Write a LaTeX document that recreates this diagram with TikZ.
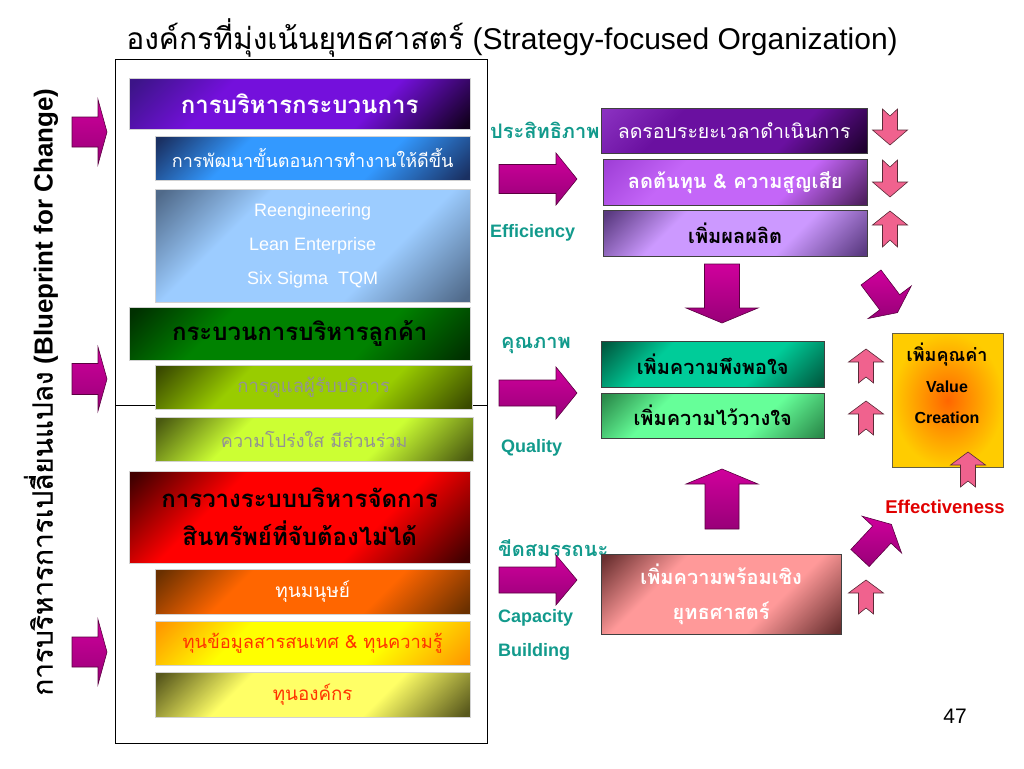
\documentclass[tikz,border=0pt]{standalone}
\usepackage{fontspec}
\setmainfont{Liberation Sans}
\newfontfamily\thai[Script=Thai]{Loma}
\newfontfamily\thaithick[Script=Thai, FakeBold=0.6]{Loma}

% colours
\definecolor{mag}{HTML}{C0008F}
\definecolor{magtop}{HTML}{D0009C}
\definecolor{magbot}{HTML}{980078}
\definecolor{magdark}{HTML}{5A0040}
\definecolor{pinkarr}{HTML}{F0628E}
\definecolor{pinkdark}{HTML}{5A2A38}
\definecolor{labelteal}{HTML}{129A8C}
\definecolor{effred}{HTML}{E00000}
\definecolor{thaired}{HTML}{FF3300}
\definecolor{dimtext}{HTML}{939393}
\definecolor{procA}{HTML}{3C1488}\definecolor{procM}{HTML}{7410DC}\definecolor{procB}{HTML}{12001E}
\definecolor{devA}{HTML}{1A3062}\definecolor{devM}{HTML}{3399FF}
\definecolor{methA}{HTML}{506A8A}\definecolor{methM}{HTML}{9CCCFF}
\definecolor{custA}{HTML}{003000}\definecolor{custM}{HTML}{008200}
\definecolor{careA}{HTML}{3A4A00}\definecolor{careM}{HTML}{99CC00}
\definecolor{openA}{HTML}{4A5A10}\definecolor{openM}{HTML}{CCFF33}
\definecolor{intA}{HTML}{420000}\definecolor{intM}{HTML}{FF0000}
\definecolor{humA}{HTML}{6A3000}\definecolor{humM}{HTML}{FF6600}
\definecolor{infoA}{HTML}{FF9900}\definecolor{infoM}{HTML}{FFFF00}
\definecolor{orgA}{HTML}{58581C}\definecolor{orgM}{HTML}{FFFF66}
\definecolor{cycA}{HTML}{8A30C0}\definecolor{cycM}{HTML}{6A10A0}\definecolor{cycB}{HTML}{1E002E}
\definecolor{costA}{HTML}{A040D8}\definecolor{costM}{HTML}{C466F8}\definecolor{costB}{HTML}{502060}
\definecolor{outA}{HTML}{5A3A80}\definecolor{outM}{HTML}{CC99FF}
\definecolor{satA}{HTML}{005A40}\definecolor{satM}{HTML}{00CC99}
\definecolor{trA}{HTML}{2A8A4A}\definecolor{trM}{HTML}{66FF99}
\definecolor{rdyA}{HTML}{6A3030}\definecolor{rdyM}{HTML}{FF9999}
\definecolor{valIn}{HTML}{FF6600}\definecolor{valOut}{HTML}{FFCC00}

% corner-to-corner fill: dark corner, flat middle, dark corner
\colorlet{fadeA}{black}\colorlet{fadeM}{white}\colorlet{fadeB}{black}
\pgfdeclarehorizontalshading[fadeA,fadeM,fadeB]{fadeshade}{100bp}{color(0bp)=(fadeA); color(16bp)=(fadeA); color(34bp)=(fadeM); color(64bp)=(fadeM); color(84bp)=(fadeB); color(100bp)=(fadeB)}

\begin{document}
\begin{tikzpicture}[x=1pt, y=-1pt,
  box/.style={draw=gray!35, anchor=north west, inner sep=2pt, align=center},
  rbox/.style={draw=black!75, anchor=north west, inner sep=2pt, align=center},
  fade/.style n args={3}{/utils/exec={\colorlet{fadeA}{#1}\colorlet{fadeM}{#2}\colorlet{fadeB}{#3}}, shade, shading=fadeshade, shading angle=-45},
  bigarrow/.style={top color=magtop, bottom color=magbot, draw=magdark, line width=0.6pt},
  pinkarrow/.style={fill=pinkarr, draw=pinkdark, line width=0.6pt},
  tealtext/.style={anchor=west, text=labelteal, inner sep=0pt},
  pics/barrow/.style n args={4}{code={
    \path[pic actions] (0,-#2) -- (#1-#4,-#2) -- (#1-#4,-#3) -- (#1,0) -- (#1-#4,#3) -- (#1-#4,#2) -- (0,#2) -- cycle;}},
  pics/narrow/.style n args={5}{code={
    \path[pic actions] (0,-#2) -- (#1-#4,-#2) -- (#1-#4,-#3) -- (#1,0) -- (#1-#4,#3) -- (#1-#4,#2) -- (0,#2) -- (#5,0) -- cycle;}},
]
\useasboundingbox (0,0) rectangle (1024,768);

% Title and side text
\node (title) [font=\fontsize{30}{34}\selectfont] at (512,38) {{\thai องค์กรที่มุ่งเน้นยุทธศาสตร์} (Strategy-focused Organization)};
\node (side) [rotate=90, font=\fontsize{26}{30}\selectfont] at (41,392) {{\thaithick\fontsize{28}{30}\selectfont การบริหารการเปลี่ยนแปลง} \textbf{(Blueprint for Change)}};

% Left arrows
\pic[bigarrow] at (72,132) {barrow={35}{15}{32.5}{9}};
\pic[bigarrow] at (72,379) {barrow={35}{15.5}{32}{9}};
\pic[bigarrow] at (72,652) {barrow={35}{15}{32.5}{9}};

% Frame
\node (frame) [draw, line width=1pt, anchor=north west, minimum width=372pt, minimum height=684pt, inner sep=0pt] at (115,59) {};
\coordinate (divy) at (0,405);
\draw[line width=1pt] (frame.west |- divy) -- (frame.east |- divy);

% Left boxes
\node (procmgmt) [box, fade={procA}{procM}{procB}, minimum width=341pt, minimum height=51pt, text=white, font=\thai\bfseries\fontsize{24}{28}\selectfont] at (129,78) {การบริหารกระบวนการ};
\node (procdev) [box, fade={devA}{devM}{devA}, minimum width=315pt, minimum height=44pt, text=white, font=\thai\fontsize{18}{22}\selectfont] at (155,136) {การพัฒนาขั้นตอนการทำงานให้ดีขึ้น};
\node (methods) [box, fade={methA}{methM}{methA}, minimum width=315pt, minimum height=113pt, text=white, font=\fontsize{18}{34}\selectfont] at (155,189) {Reengineering\\Lean Enterprise\\Six Sigma\ \ TQM};
\node (custmgmt) [box, fade={custA}{custM}{custA}, minimum width=341pt, minimum height=53pt, font=\thai\bfseries\fontsize{24}{28}\selectfont] at (129,307) {กระบวนการบริหารลูกค้า};
\node (custcare) [box, fade={careA}{careM}{careA}, minimum width=317pt, minimum height=44pt, text=dimtext, font=\thai\fontsize{18.5}{22}\selectfont] at (155,365) {การดูแลผู้รับบริการ};
\node (openness) [box, fade={openA}{openM}{openA}, minimum width=318pt, minimum height=44pt, text=dimtext, font=\thai\fontsize{18}{22}\selectfont] at (155,417) {ความโปร่งใส มีส่วนร่วม};
\node (intangible) [box, fade={intA}{intM}{intA}, minimum width=341pt, minimum height=92pt, font=\thai\bfseries\fontsize{24}{38}\selectfont] at (129,471) {การวางระบบบริหารจัดการ\\สินทรัพย์ที่จับต้องไม่ได้};
\node (humancap) [box, fade={humA}{humM}{humA}, minimum width=315pt, minimum height=45pt, text=white, font=\thai\fontsize{19}{22}\selectfont] at (155,569) {ทุนมนุษย์};
\node (infocap) [box, fade={infoA}{infoM}{infoA}, minimum width=315pt, minimum height=44pt, text=thaired, font=\thai\fontsize{18.3}{22}\selectfont] at (155,621) {ทุนข้อมูลสารสนเทศ \& ทุนความรู้};
\node (orgcap) [box, fade={orgA}{orgM}{orgA}, minimum width=315pt, minimum height=45pt, text=thaired, font=\thai\fontsize{18.8}{22}\selectfont] at (155,672) {ทุนองค์กร};

% Labels on the right of the frame
\node (effth) [tealtext, font=\thai\bfseries\fontsize{20}{24}\selectfont] at (490,130) {ประสิทธิภาพ};
\node (effen) [tealtext, font=\bfseries\fontsize{18}{20}\selectfont] at (490,233) {Efficiency};
\node (qualth) [tealtext, font=\thai\bfseries\fontsize{20}{24}\selectfont] at (501,345) {คุณภาพ};
\node (qualen) [tealtext, font=\bfseries\fontsize{18}{20}\selectfont] at (501,448) {Quality};
\node (capth) [tealtext, font=\thai\bfseries\fontsize{20}{24}\selectfont] at (498,548) {ขีดสมรรถนะ};
\node (capen) [tealtext, font=\bfseries\fontsize{18}{20}\selectfont] at (498,618) {Capacity};
\node (builden) [tealtext, font=\bfseries\fontsize{18}{20}\selectfont] at (498,652) {Building};

% Right arrows
\pic[bigarrow] at (499,179) {barrow={78}{14.5}{26}{21}};
\pic[bigarrow] at (499,393) {barrow={78}{13}{26}{21}};
\pic[bigarrow] at (499,580) {barrow={78}{13}{25}{21}};

% Right boxes
\node (cycle) [rbox, fade={cycA}{cycM}{cycB}, minimum width=266pt, minimum height=45pt, text=white, font=\thai\fontsize{19.5}{24}\selectfont] at (601,108) {ลดรอบระยะเวลาดำเนินการ};
\node (cost) [rbox, fade={costA}{costM}{costB}, minimum width=264pt, minimum height=46pt, text=white, font=\thai\bfseries\fontsize{20}{24}\selectfont] at (603,159) {ลดต้นทุน \& ความสูญเสีย};
\node (output) [rbox, fade={outA}{outM}{outA}, minimum width=264pt, minimum height=46pt, font=\thai\bfseries\fontsize{20}{24}\selectfont] at (603,210) {เพิ่มผลผลิต};
\node (satisf) [rbox, fade={satA}{satM}{satA}, minimum width=223pt, minimum height=46pt, font=\thai\bfseries\fontsize{20}{24}\selectfont] at (601,341) {เพิ่มความพึงพอใจ};
\node (trust) [rbox, fade={trA}{trM}{trA}, minimum width=223pt, minimum height=45pt, font=\thai\bfseries\fontsize{20}{24}\selectfont] at (601,393) {เพิ่มความไว้วางใจ};
\node (ready) [rbox, fade={rdyA}{rdyM}{rdyA}, minimum width=240pt, minimum height=80pt, text=white, font=\thai\bfseries\fontsize{20}{35}\selectfont] at (601,554) {เพิ่มความพร้อมเชิง\\ยุทธศาสตร์};
\node (value) [rbox, draw=black!70!yellow, inner color=valIn, outer color=valOut, minimum width=111pt, minimum height=134pt] at (892,333) {};
\node (valtext) [align=center, font=\bfseries\fontsize{16}{31}\selectfont] at (947,383) {{\thai\fontsize{18}{31}\selectfont เพิ่มคุณค่า}\\Value\\Creation};

% Big arrows between the groups
\pic[bigarrow, rotate=-90] at (722,264) {barrow={59}{17.5}{36}{15}};
\pic[bigarrow, rotate=90] at (722,529) {barrow={60}{17}{36}{15}};
\pic[bigarrow, rotate=-53] at (871,277.5) {barrow={44}{12.5}{27}{13}};
\pic[bigarrow, rotate=47] at (860,558) {barrow={46}{12.5}{27}{14}};

% Small arrows
\pic[pinkarrow, rotate=-90] at (890,109) {narrow={36}{7.5}{17.5}{15}{7}};
\pic[pinkarrow, rotate=-90] at (890,160) {narrow={37}{7.5}{17.5}{15}{7}};
\pic[pinkarrow, rotate=90] at (890,247) {narrow={36}{7.5}{17.5}{14}{7}};
\pic[pinkarrow, rotate=90] at (866,383) {narrow={34}{7.5}{17.5}{13}{6}};
\pic[pinkarrow, rotate=90] at (866,435) {narrow={34}{7.5}{17.5}{13}{6}};
\pic[pinkarrow, rotate=90] at (866,614) {narrow={34}{7.5}{17.5}{13}{6}};
\pic[pinkarrow, rotate=90] at (968,487) {narrow={35}{7.5}{17.5}{13}{6}};

\node (effect) [text=effred, font=\bfseries\fontsize{18.5}{22}\selectfont] at (945,507) {Effectiveness};
\node (pagenum) [font=\fontsize{21}{24}\selectfont] at (955,716) {47};

\end{tikzpicture}
\end{document}
